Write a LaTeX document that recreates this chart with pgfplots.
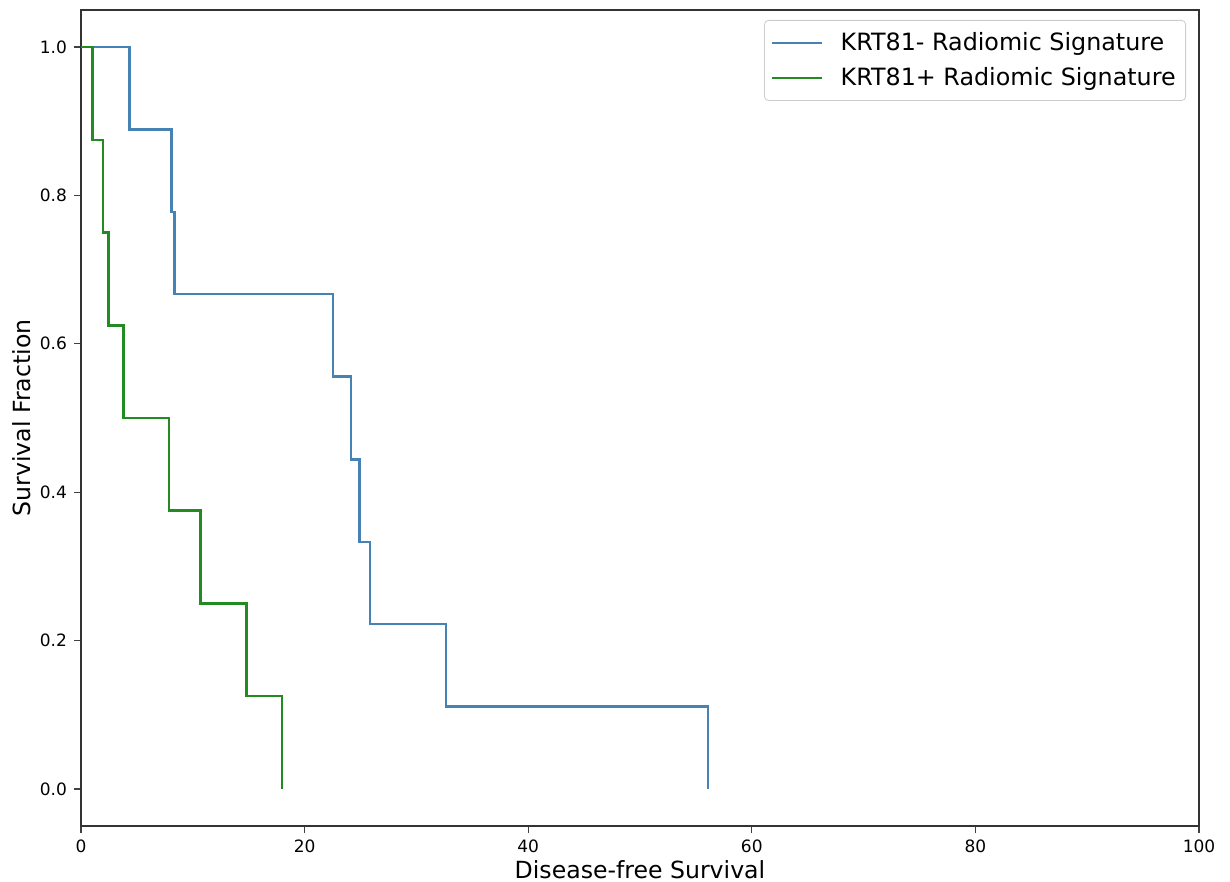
\documentclass[border=0pt]{standalone}
\usepackage{fontspec}
\setmainfont{DejaVu Sans}
\usepackage{pgfplots}
\pgfplotsset{compat=1.18}
\definecolor{kmblue}{HTML}{4682B4}
\definecolor{kmgreen}{HTML}{228B22}
\begin{document}
\begin{tikzpicture}
\begin{axis}[
    scale only axis,
    width=559pt, height=408pt,
    xmin=0, xmax=100,
    ymin=-0.05, ymax=1.05,
    xtick={0,20,40,60,80,100},
    ytick={0,0.2,0.4,0.6,0.8,1.0},
    tick align=outside,
    xtick pos=bottom, ytick pos=left,
    major tick length=3.5pt,
    every tick/.style={black!75, line width=0.6pt},
    axis line style={black!80, line width=0.6pt},
    tick label style={font=\fontsize{8.5}{10}\selectfont},
    /pgf/number format/assume math mode=true,
    yticklabel style={/pgf/number format/.cd, fixed, fixed zerofill, precision=1},
    xlabel={Disease-free Survival},
    ylabel={Survival Fraction},
    label style={font=\fontsize{11.8}{14}\selectfont},
    xlabel style={at={(axis description cs:0.5,-0.0539)}, anchor=center},
    ylabel style={at={(axis description cs:-0.0528,0.5)}, anchor=center},
    legend style={at={(1,1)}, anchor=north east, xshift=-6.5pt, yshift=-5pt,
        draw=black!20, rounded corners=2pt, font=\fontsize{11.9}{14}\selectfont,
        inner xsep=3pt, inner ysep=4pt, row sep=3pt,
        /tikz/every odd column/.append style={column sep=7pt}},
    legend cell align=left,
    legend image code/.code={\draw[#1, line width=1.1pt] (0pt,0pt) -- (25pt,0pt);},
]
\addplot[kmblue, line width=1.25pt, const plot mark left] coordinates {
(0,1.0) (4.32,0.889) (8.08,0.778) (8.35,0.667) (22.54,0.556) (24.15,0.444)
(24.9,0.333) (25.85,0.222) (32.65,0.111) (56.1,0.0)};
\addlegendentry{KRT81- Radiomic Signature}
\addplot[kmgreen, line width=1.25pt, const plot mark left] coordinates {
(0,1.0) (1.01,0.875) (1.97,0.75) (2.44,0.625) (3.79,0.5) (7.87,0.375)
(10.7,0.25) (14.8,0.125) (18.0,0.0)};
\addlegendentry{KRT81+ Radiomic Signature}
\end{axis}
\pgfresetboundingbox
\path ([shift={(-40.5pt,-28pt)}]current axis.south west) rectangle ([shift={(15.5pt,5pt)}]current axis.north east);
\end{tikzpicture}
\end{document}
